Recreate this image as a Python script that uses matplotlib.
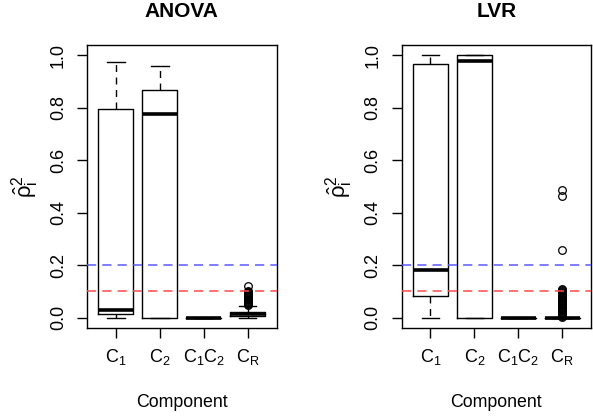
import matplotlib
matplotlib.use("Agg")
import matplotlib.pyplot as plt

# ---- data ----
components = [r"$\mathrm{C}_1$", r"$\mathrm{C}_2$", r"$\mathrm{C}_1\mathrm{C}_2$", r"$\mathrm{C}_\mathrm{R}$"]
panel_titles = ["ANOVA", "LVR"]
y_ticks = [0.0, 0.2, 0.4, 0.6, 0.8, 1.0]
ref_blue = 0.2
ref_red = 0.1

anova_whislo = [0.0, 0.0, 0.0, 0.0]
anova_q1 = [0.012, 0.0, 0.0, 0.004]
anova_med = [0.027, 0.777, 0.0, 0.012]
anova_q3 = [0.797, 0.870, 0.0, 0.022]
anova_whishi = [0.974, 0.959, 0.0, 0.045]
anova_fliers_cr = [0.048, 0.051, 0.054, 0.057, 0.060, 0.063, 0.066, 0.069, 0.072,
                   0.075, 0.078, 0.081, 0.084, 0.087, 0.090, 0.093, 0.096, 0.099,
                   0.102, 0.121]

lvr_whislo = [0.0, 0.0, 0.0, 0.0]
lvr_q1 = [0.081, 0.0, 0.0, 0.0]
lvr_med = [0.183, 0.978, 0.0, 0.0]
lvr_q3 = [0.969, 1.0, 0.0, 0.0]
lvr_whishi = [1.0, 1.0, 0.0, 0.0]
lvr_fliers_cr = [0.002, 0.006, 0.010, 0.014, 0.018, 0.022, 0.026, 0.030, 0.034,
                 0.038, 0.042, 0.046, 0.050, 0.054, 0.058, 0.062, 0.066, 0.070,
                 0.074, 0.078, 0.082, 0.086, 0.090, 0.094, 0.098, 0.102, 0.106,
                 0.110, 0.258, 0.463, 0.486]

plt.rcParams["font.family"] = ["Liberation Sans", "DejaVu Sans"]
plt.rcParams["mathtext.fontset"] = "custom"
plt.rcParams["mathtext.rm"] = "Liberation Sans"
plt.rcParams["mathtext.it"] = "Liberation Sans:italic"
plt.rcParams["mathtext.bf"] = "Liberation Sans:bold"


def make_stats(whislo, q1, med, q3, whishi, cr_fliers):
    stats = []
    for i in range(len(components)):
        stats.append(dict(whislo=whislo[i], q1=q1[i], med=med[i], q3=q3[i],
                          whishi=whishi[i],
                          fliers=cr_fliers if i == 3 else []))
    return stats


panels = [
    make_stats(anova_whislo, anova_q1, anova_med, anova_q3, anova_whishi, anova_fliers_cr),
    make_stats(lvr_whislo, lvr_q1, lvr_med, lvr_q3, lvr_whishi, lvr_fliers_cr),
]

W, H = 593, 419
fig = plt.figure(figsize=(W / 100, H / 100), dpi=100)
lefts = [87, 401.5]
for k, (stats, title) in enumerate(zip(panels, panel_titles)):
    ax = fig.add_axes([lefts[k] / W, 1 - 328 / H, 189.5 / W, 283 / H])
    ax.bxp(stats, positions=[1, 2, 3, 4], widths=0.8, capwidths=0.4,
           boxprops=dict(color="black", linewidth=1.0),
           whiskerprops=dict(color="black", linewidth=1.0, linestyle=(0, (5, 4))),
           capprops=dict(color="black", linewidth=1.0),
           medianprops=dict(color="black", linewidth=2.6, solid_capstyle="butt"),
           flierprops=dict(marker="o", markerfacecolor="none", markeredgecolor="black",
                           markersize=5.5, markeredgewidth=0.9),
           manage_ticks=False)
    ax.axhline(ref_blue, color="#5a5aff", linewidth=1.1, linestyle=(0, (6, 4)), zorder=5)
    ax.axhline(ref_red, color="#ff4a4a", linewidth=1.1, linestyle=(0, (6, 4)), zorder=5)
    ax.set_xlim(0.34, 4.66)
    ax.set_ylim(-0.04, 1.04)
    ax.set_xticks([1, 2, 3, 4])
    ax.set_xticklabels(components)
    ax.set_yticks(y_ticks)
    ax.set_yticklabels([f"{v:.1f}" for v in y_ticks], rotation=90, va="center")
    ax.tick_params(axis="both", direction="out", length=7.5, width=1.0,
                   labelsize=13, color="black")
    ax.tick_params(axis="x", pad=6)
    ax.tick_params(axis="y", pad=7)
    for sp in ax.spines.values():
        sp.set_color("black")
        sp.set_linewidth(1.0)
    ax.set_title(title, fontsize=15, fontweight="bold", y=1.088, va="center")
    ax.set_xlabel("Component", fontsize=12.8)
    ax.xaxis.set_label_coords(0.5, -(402 - 328) / 283)
    ax.xaxis.label.set_va("center")
    ax.set_ylabel(r"$\hat{\mathrm{\rho}}_{\mathrm{i}}^{2}$", fontsize=16)
    ax.yaxis.set_label_coords(-(87 - 25) / 189.5, 0.5)
    ax.yaxis.label.set_va("center")

fig.savefig("out.png", dpi=100)
